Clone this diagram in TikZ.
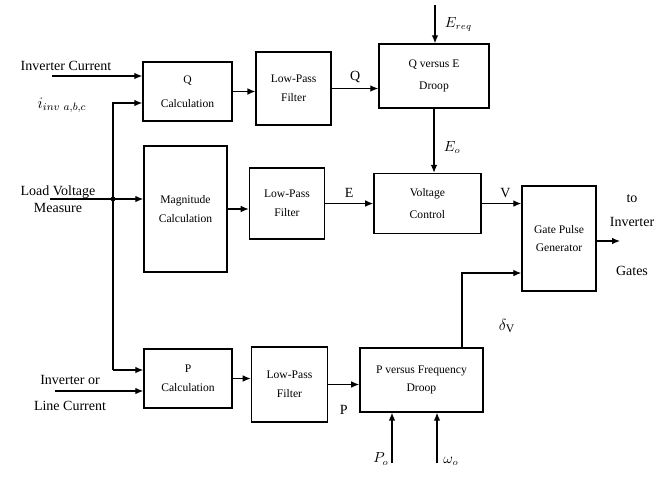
\documentclass[tikz,border=0pt]{standalone}
\usepackage{fontspec}
\setmainfont{Liberation Serif}
\usepackage{tikz}
\usetikzlibrary{arrows.meta,positioning}
\tikzset{
  blockbox/.style={
    draw=black,
    line width=1.1pt,
    align=center,
    inner sep=2pt,
    font=\fontsize{8.7}{14}\selectfont
  },
  flowarrow/.style={
    -{Latex[length=6pt,width=5pt]},
    line width=0.9pt,
    draw=black
  },
  plainline/.style={
    line width=0.9pt,
    draw=black
  },
  sigtext/.style={
    inner sep=1pt,
    align=center,
    font=\fontsize{10.5}{13}\selectfont
  },
  junction/.style={
    circle,
    fill=black,
    inner sep=1.3pt
  }
}

\begin{document}
\begin{tikzpicture}[x=0.75pt, y=-0.75pt]
    \useasboundingbox (0,0) rectangle (668,479);

    \node[blockbox, minimum width=66.75pt, minimum height=44.25pt] (qcalc) at (187.5,91.5) {Q\\[4pt]Calculation};
    \node[blockbox, minimum width=56.25pt, minimum height=54.75pt, right=17pt of qcalc, yshift=2.25pt] (lpfq) {Low-Pass\\Filter};
    \node[blockbox, minimum width=82.5pt, minimum height=48pt] (qdroop) at (434,76) {Q versus E\\[3pt]Droop};

    \node[blockbox, minimum width=62.25pt, minimum height=94.5pt] (magcalc) at (185.5,209) {Magnitude\\Calculation};
    \node[blockbox, minimum width=56.25pt, minimum height=53.25pt, right=15.75pt of magcalc, yshift=4.1pt] (lpfe) {Low-Pass\\Filter};
    \node[blockbox, minimum width=80.25pt, minimum height=45pt, right=36pt of lpfe] (vctrl) {Voltage\\[3pt]Control};
    \node[blockbox, minimum width=55.5pt, minimum height=78.75pt] (gate) at (559,238.5) {Gate Pulse\\Generator};

    \node[blockbox, minimum width=66pt, minimum height=44.25pt] (pcalc) at (188,378.5) {P\\Calculation};
    \node[blockbox, minimum width=57pt, minimum height=56.25pt, right=13.5pt of pcalc, yshift=-4.5pt] (lpfp) {Low-Pass\\Filter};
    \node[blockbox, minimum width=92.25pt, minimum height=48pt, right=23.25pt of lpfp, yshift=3.4pt] (pdroop) {P versus Frequency\\Droop};

    \node[sigtext] (invtxt) at (66,66) {Inverter Current};
    \node[sigtext, font=\fontsize{12}{14}\selectfont] (invsym) at (62,105) {$i_{inv\ a,b,c}$};
    \node[sigtext] (loadtxt) at (58,199) {Load Voltage\\Measure};
    \node[sigtext] (linetxt) at (70,393) {Inverter or\\[6pt]Line Current};

    \coordinate (invin) at (52,76);
    \coordinate (loadin) at (50,199);
    \coordinate (busq) at (113,103);
    \coordinate (busp) at (113,370);
    \coordinate (linein) at (55,391);
    \node[junction] (junc) at (113,199) {};

    \draw[flowarrow] (invin) -- (invin -| qcalc.west);
    \draw[flowarrow] (busp) -- (busq) -- (busq -| qcalc.west);
    \draw[flowarrow] (busp) -- (busp -| pcalc.west);
    \draw[flowarrow] (loadin) -- (loadin -| magcalc.west);
    \draw[flowarrow] (linein) -- (linein -| pcalc.west);

    \draw[flowarrow] (qcalc.east) -- (qcalc.east -| lpfq.west);
    \draw[flowarrow] (lpfq.east) -- node[above, sigtext, yshift=3pt]{Q} (lpfq.east -| qdroop.west);
    \draw[flowarrow] (magcalc.east) -- (magcalc.east -| lpfe.west);
    \draw[flowarrow] (lpfe.east) -- node[above, sigtext, yshift=3pt]{E} (lpfe.east -| vctrl.west);
    \draw[flowarrow] (vctrl.east) -- node[above, sigtext, pos=0.6, yshift=3pt]{V} (vctrl.east -| gate.west);
    \draw[flowarrow] (pcalc.east) -- (pcalc.east -| lpfp.west);
    \draw[flowarrow] (lpfp.east) -- node[below=14pt, sigtext]{P} (lpfp.east -| pdroop.west);

    \coordinate (ereq) at (435,5);
    \draw[flowarrow] (ereq) -- node[right, sigtext, xshift=6pt]{$E_{req}$} (ereq |- qdroop.north);
    \draw[flowarrow] (qdroop.south) -- node[right, sigtext, pos=0.6, xshift=6pt]{$E_o$} (qdroop.south |- vctrl.north);

    \draw[flowarrow] ([xshift=30.4pt]pdroop.north) |- ([yshift=-25.9pt]gate.west);
    \node[sigtext, font=\fontsize{12.5}{14}\selectfont] (deltav) at (507,326) {$\delta_{\mathrm{V}}$};

    \coordinate (gateout) at (620,241);
    \draw[flowarrow] (gate.east |- gateout) -- (gateout);
    \node[sigtext] (totxt) at (632,199) {to};
    \node[sigtext] (invgtxt) at (632,222) {Inverter};
    \node[sigtext] (gatestxt) at (632,271) {Gates};

    \coordinate (pref) at (392,463);
    \coordinate (wref) at (437,463);
    \draw[flowarrow] (pref) -- (pref |- pdroop.south);
    \draw[flowarrow] (wref) -- (wref |- pdroop.south);
    \node[sigtext] (ptxt) at (381,459) {$P_o$};
    \node[sigtext] (wtxt) at (451,461) {$\omega_o$};
\end{tikzpicture}
\end{document}
